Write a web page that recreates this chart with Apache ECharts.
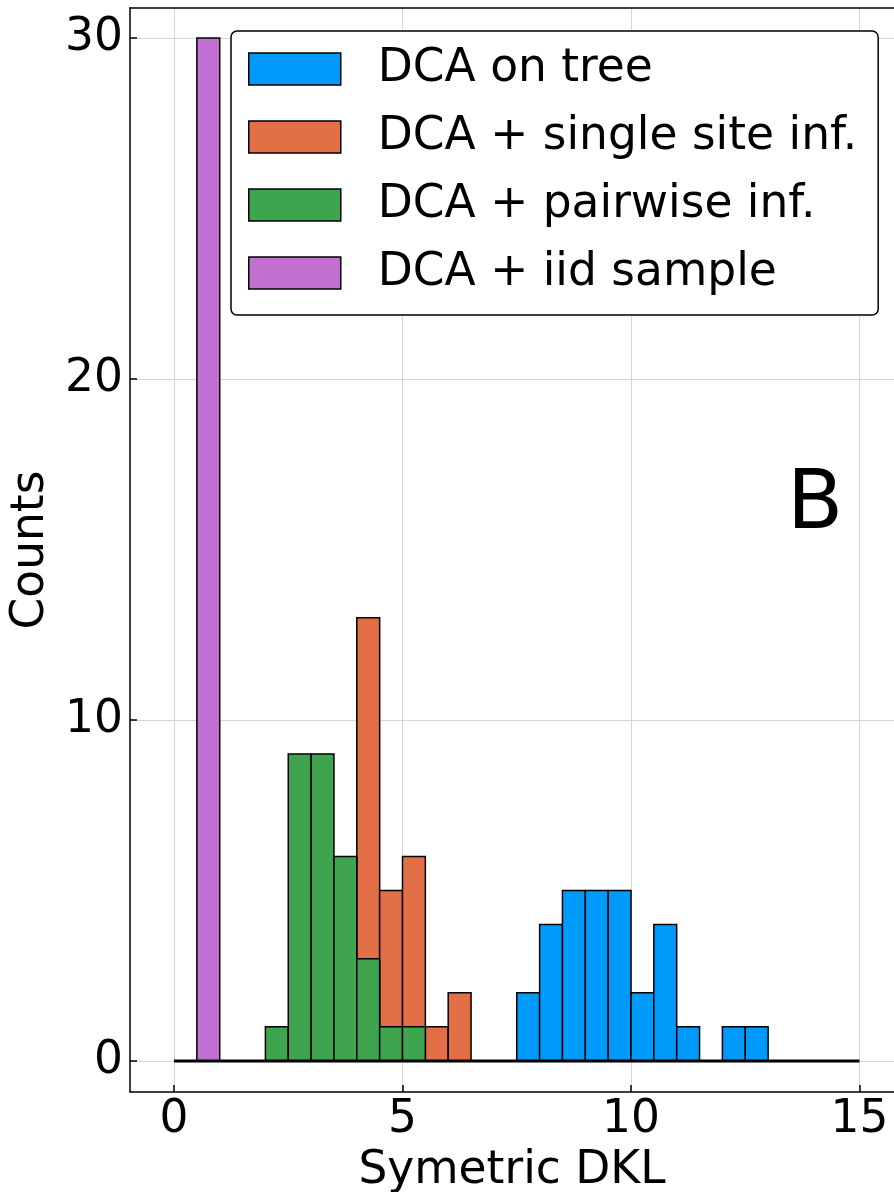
<!DOCTYPE html>
<html>
<head>
<meta charset="utf-8">
<script src="https://cdn.jsdelivr.net/npm/echarts@6/dist/echarts.min.js"></script>
<style>
  html, body { margin: 0; padding: 0; background: #fff; }
  #chart { width: 894px; height: 1192px; }
</style>
</head>
<body>
<div id="chart"></div>
<script>
(function () {
  // histogram bins are 0.5 wide, values are bin left edges + counts
  const binWidth = 0.5;

  const treeBins = [7.5, 8, 8.5, 9, 9.5, 10, 10.5, 11, 12, 12.5];
  const treeCounts = [2, 4, 5, 5, 5, 2, 4, 1, 1, 1];

  const singleBins = [4, 4.5, 5, 5.5, 6];
  const singleCounts = [13, 5, 6, 1, 2];

  const pairBins = [2, 2.5, 3, 3.5, 4, 4.5, 5];
  const pairCounts = [1, 9, 9, 6, 3, 1, 1];

  const iidBins = [0.5];
  const iidCounts = [30];

  const baselineX = [0, 15];
  const baselineY = [0, 0];

  const xTicks = [0, 5, 10, 15];
  const yTicks = [0, 10, 20, 30];

  const seriesNames = ["DCA on tree", "DCA + single site inf.", "DCA + pairwise inf.", "DCA + iid sample"];
  const colors = ["#009AFA", "#E36F47", "#3EA44E", "#C271D2"];

  const font = "DejaVu Sans";
  const fs = 45.5;

  function toData(bins, counts) {
    return bins.map((b, i) => [b, counts[i]]);
  }

  function renderBin(params, api) {
    const x0 = api.value(0);
    const c = api.value(1);
    const tl = api.coord([x0, c]);
    const br = api.coord([x0 + binWidth, 0]);
    return {
      type: "rect",
      shape: { x: tl[0], y: tl[1], width: br[0] - tl[0], height: br[1] - tl[1] },
      style: { fill: colors[params.seriesIndex - 1], stroke: "#000", lineWidth: 1.5 },
    };
  }

  const histSeries = [
    toData(treeBins, treeCounts),
    toData(singleBins, singleCounts),
    toData(pairBins, pairCounts),
    toData(iidBins, iidCounts),
  ].map((data, i) => ({
    name: seriesNames[i],
    type: "custom",
    renderItem: renderBin,
    itemStyle: { color: colors[i], borderColor: "#000", borderWidth: 1.5 },
    encode: { x: 0, y: 1 },
    data: data,
  }));

  const chart = echarts.init(document.getElementById("chart"));

  const option = {
    animation: false,
    backgroundColor: "#fff",
    grid: { left: 130, top: 8, right: 0, bottom: 100, outerBoundsMode: "none", containLabel: false },
    legend: {
      orient: "vertical",
      left: 231,
      top: 31,
      padding: [15, 21, 19, 17],
      itemWidth: 92,
      itemHeight: 32,
      itemGap: 22,
      backgroundColor: "#fff",
      borderColor: "#000",
      borderWidth: 1.5,
      borderRadius: 6,
      icon: "rect",
      itemStyle: { borderColor: "#000", borderWidth: 1.5 },
      textStyle: { fontFamily: font, fontSize: fs, color: "#000", padding: [0, 0, 0, 32] },
      data: seriesNames.map((n, i) => ({ name: n, itemStyle: { color: colors[i] } })),
    },
    xAxis: [
      {
        type: "value",
        min: -0.963,
        max: 15.755,
        name: "Symetric DKL",
        nameLocation: "middle",
        nameGap: 54,
        nameTextStyle: { fontFamily: font, fontSize: fs, color: "#000" },
        axisLine: { show: true, onZero: false, lineStyle: { color: "#000", width: 1.5 } },
        axisTick: { show: true, inside: true, length: 7, customValues: xTicks, lineStyle: { color: "#000", width: 1.5 } },
        axisLabel: { customValues: xTicks, fontFamily: font, fontSize: fs, color: "#000", margin: 5 },
        splitLine: { show: true, lineStyle: { color: "#d6d6d6", width: 1 } },
      },
      {
        type: "value",
        position: "top",
        min: -0.963,
        max: 15.755,
        axisLine: { show: true, onZero: false, lineStyle: { color: "#000", width: 1.5 } },
        axisTick: { show: false },
        axisLabel: { show: false },
        splitLine: { show: false },
      },
    ],
    yAxis: {
      type: "value",
      min: -0.91,
      max: 30.88,
      name: "Counts",
      nameLocation: "middle",
      nameGap: 68,
      nameTextStyle: { fontFamily: font, fontSize: fs, color: "#000" },
      axisLine: { show: true, onZero: false, lineStyle: { color: "#000", width: 1.5 } },
      axisTick: { show: true, inside: true, length: 7, customValues: yTicks, lineStyle: { color: "#000", width: 1.5 } },
      axisLabel: { customValues: yTicks, fontFamily: font, fontSize: fs, color: "#000", margin: 7 },
      splitLine: { show: true, lineStyle: { color: "#d6d6d6", width: 1 } },
    },
    graphic: [
      {
        type: "text",
        left: 787,
        top: 466,
        style: { text: "B", fontFamily: font, fontSize: 82, fill: "#000" },
      },
    ],
    series: [
      {
        name: "baseline",
        type: "line",
        symbol: "none",
        lineStyle: { color: "#000", width: 3 },
        data: baselineX.map((x, i) => [x, baselineY[i]]),
      },
    ].concat(histSeries),
  };

  chart.setOption(option);
})();
</script>
</body>
</html>
